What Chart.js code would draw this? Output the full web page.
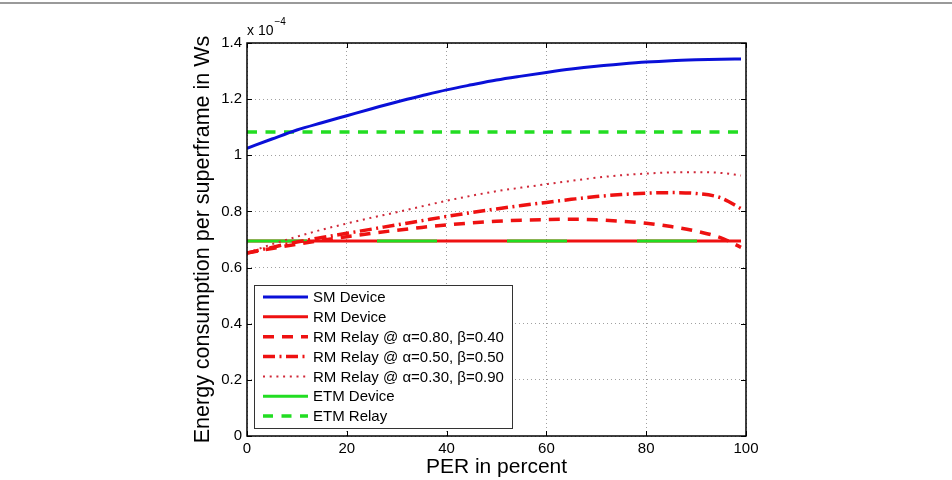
<!DOCTYPE html>
<html>
<head>
<meta charset="utf-8">
<script src="https://cdn.jsdelivr.net/npm/chart.js@4"></script>
<style>
  html, body { margin: 0; padding: 0; background: #fff; }
  canvas { display: block; }
</style>
</head>
<body>
<canvas id="energyChart" width="952" height="480"></canvas>
<script>
// PER in percent, sample points for the curves
const per = [0, 5, 10, 15, 20, 25, 30, 35, 40, 45, 50, 55, 60, 65, 70, 75, 80, 85, 90, 95, 99];
const perFlat = [0, 99];

// energy per superframe, in units of 1e-4 Ws
const smDevice = [1.025, 1.058, 1.09, 1.116, 1.141, 1.166, 1.19, 1.212, 1.233, 1.251, 1.268,
                  1.282, 1.295, 1.307, 1.317, 1.325, 1.332, 1.337, 1.34, 1.342, 1.343];
const rmDevice = [0.695, 0.695];
const rmRelay80 = [0.652, 0.668, 0.683, 0.697, 0.71, 0.722, 0.733, 0.743, 0.752, 0.759, 0.765,
                   0.769, 0.771, 0.772, 0.77, 0.765, 0.758, 0.746, 0.73, 0.706, 0.672];
const rmRelay50 = [0.652, 0.672, 0.691, 0.707, 0.722, 0.737, 0.752, 0.767, 0.782, 0.796, 0.809,
                   0.821, 0.832, 0.843, 0.853, 0.86, 0.865, 0.867, 0.864, 0.848, 0.81];
const rmRelay30 = [0.652, 0.683, 0.71, 0.735, 0.757, 0.778, 0.797, 0.818, 0.838, 0.856, 0.872,
                   0.885, 0.897, 0.909, 0.92, 0.929, 0.935, 0.939, 0.94, 0.937, 0.928];
const etmDevice = [0.695, 0.695];
const etmRelay = [1.083, 1.083];

const xTicks = [0, 20, 40, 60, 80, 100];
const yTicks = [0, 0.2, 0.4, 0.6, 0.8, 1, 1.2, 1.4];
const yTickLabels = ['0', '0.2', '0.4', '0.6', '0.8', '1', '1.2', '1.4'];

const FONT = '"Liberation Sans", Arial, Helvetica, sans-serif';
const BLUE = '#0a10d8';
const RED = '#ee1111';
const GREEN = '#22dd22';

function pts(xs, ys) {
  return xs.map((x, i) => ({ x: x, y: ys[i] }));
}

// box, inward tick marks and the x10^-4 multiplier, like a MATLAB axes
const axesBox = {
  id: 'axesBox',
  beforeDraw(chart) {
    const ctx = chart.ctx;
    ctx.save();
    ctx.fillStyle = '#9a9a9a';
    ctx.fillRect(0, 2, chart.width, 2);
    ctx.restore();
  },
  afterDatasetsDraw(chart) {
    const { ctx, chartArea: a, scales } = chart;
    ctx.save();
    ctx.strokeStyle = '#000';
    ctx.lineWidth = 1;
    ctx.beginPath();
    xTicks.forEach(v => {
      const px = Math.round(scales.x.getPixelForValue(v)) + 0.5;
      ctx.moveTo(px, a.bottom); ctx.lineTo(px, a.bottom - 5);
      ctx.moveTo(px, a.top); ctx.lineTo(px, a.top + 5);
    });
    yTicks.forEach(v => {
      const py = Math.round(scales.y.getPixelForValue(v)) + 0.5;
      ctx.moveTo(a.left, py); ctx.lineTo(a.left + 5, py);
      ctx.moveTo(a.right, py); ctx.lineTo(a.right - 5, py);
    });
    ctx.stroke();
    ctx.lineWidth = 1.5;
    ctx.strokeRect(a.left, a.top, a.right - a.left, a.bottom - a.top);

    ctx.fillStyle = '#000';
    ctx.textBaseline = 'middle';
    ctx.font = '14px ' + FONT;
    ctx.fillText('x 10', a.left, a.top - 12);
    const w = ctx.measureText('x 10').width;
    ctx.font = '10px ' + FONT;
    ctx.fillText('−4', a.left + w + 1, a.top - 21);
    ctx.restore();
  }
};

// legend drawn inside the lower left corner of the plot
const legendInside = {
  id: 'legendInside',
  afterDraw(chart) {
    const { ctx, chartArea } = chart;
    const x0 = chartArea.left + 7;
    const w = 258, h = 143;
    const y0 = chartArea.bottom - 8 - h;
    ctx.save();
    ctx.fillStyle = '#fff';
    ctx.fillRect(x0, y0, w, h);
    ctx.strokeStyle = '#333';
    ctx.lineWidth = 1;
    ctx.strokeRect(x0 + 0.5, y0 + 0.5, w, h);
    ctx.font = '15px ' + FONT;
    ctx.textBaseline = 'middle';
    chart.data.datasets.forEach((ds, i) => {
      const y = y0 + 12 + i * 19.85;
      ctx.beginPath();
      ctx.setLineDash(ds.legendDash || ds.borderDash || []);
      ctx.strokeStyle = ds.borderColor;
      ctx.lineWidth = ds.borderWidth;
      ctx.moveTo(x0 + 9, y);
      ctx.lineTo(x0 + 54, y);
      ctx.stroke();
      ctx.setLineDash([]);
      ctx.fillStyle = '#000';
      ctx.fillText(ds.label, x0 + 59, y + 1);
    });
    ctx.restore();
  }
};

const ctx = document.getElementById('energyChart').getContext('2d');
new Chart(ctx, {
  type: 'line',
  data: {
    datasets: [
      { label: 'SM Device', data: pts(per, smDevice), borderColor: BLUE, borderWidth: 3 },
      { label: 'RM Device', data: pts(perFlat, rmDevice), borderColor: RED, borderWidth: 3, order: 2 },
      { label: 'RM Relay @ α=0.80, β=0.40', data: pts(per, rmRelay80), borderColor: RED, borderWidth: 3.5, borderDash: [11, 8] },
      { label: 'RM Relay @ α=0.50, β=0.50', data: pts(per, rmRelay50), borderColor: RED, borderWidth: 3.5, borderDash: [12, 4.5, 2, 4.5] },
      { label: 'RM Relay @ α=0.30, β=0.90', data: pts(per, rmRelay30), borderColor: '#d02838', borderWidth: 2, borderDash: [2, 4.7] },
      { label: 'ETM Device', data: pts(perFlat, etmDevice), borderColor: GREEN, borderWidth: 3, borderDash: [60, 70], legendDash: [], order: 1 },
      { label: 'ETM Relay', data: pts(perFlat, etmRelay), borderColor: GREEN, borderWidth: 3.5, borderDash: [10, 8.5] }
    ]
  },
  options: {
    responsive: false,
    animation: false,
    events: [],
    layout: { padding: { left: 190, top: 43, right: 206, bottom: 0 } },
    elements: {
      point: { radius: 0 },
      line: { tension: 0.4, cubicInterpolationMode: 'monotone', fill: false, borderCapStyle: 'butt' }
    },
    plugins: {
      legend: { display: false },
      tooltip: { enabled: false }
    },
    scales: {
      x: {
        type: 'linear',
        min: 0,
        max: 100,
        afterBuildTicks: s => { s.ticks = xTicks.map(v => ({ value: v })); },
        afterFit: s => { s.height = 44; },
        grid: { color: '#a0a0a0', lineWidth: 1, drawTicks: false },
        border: { display: false, dash: [1, 3] },
        ticks: { color: '#000', padding: 4, maxRotation: 0, font: { family: FONT, size: 15 } },
        title: {
          display: true,
          text: 'PER in percent',
          color: '#000',
          padding: 0,
          font: { family: FONT, size: 21 }
        }
      },
      y: {
        min: 0,
        max: 1.4,
        afterBuildTicks: s => { s.ticks = yTicks.map(v => ({ value: v })); },
        afterFit: s => { s.width = 57; },
        grid: { color: '#a0a0a0', lineWidth: 1, drawTicks: false },
        border: { display: false, dash: [1, 3] },
        ticks: {
          color: '#000',
          padding: 5,
          font: { family: FONT, size: 15 },
          callback: (v) => yTickLabels[yTicks.indexOf(v)] ?? ''
        },
        title: {
          display: true,
          text: 'Energy consumption per superframe in Ws',
          color: '#000',
          padding: 0,
          font: { family: FONT, size: 21.5 }
        }
      }
    }
  },
  plugins: [axesBox, legendInside]
});
</script>
</body>
</html>
